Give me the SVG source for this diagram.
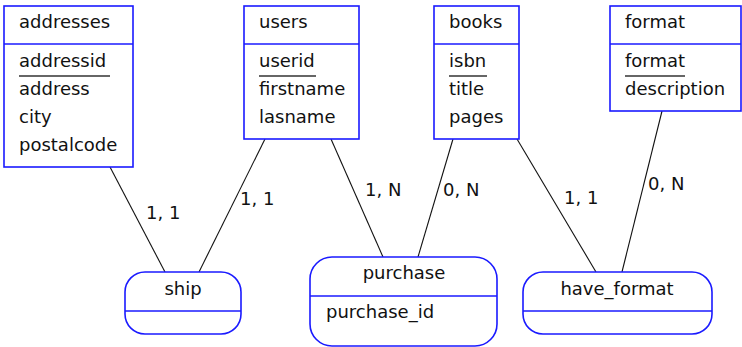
<svg xmlns="http://www.w3.org/2000/svg" width="742" height="347" viewBox="0 0 742 347">
<style>
.box{fill:#fff;stroke:#1a1aff;stroke-width:1.6}
.div{stroke:#1a1aff;stroke-width:1.6}
.t{font-family:"DejaVu Sans",sans-serif;font-size:18px;fill:#111}
.c{text-anchor:middle}
.u{stroke:#333;stroke-width:1.4}
.lk{stroke:#111;stroke-width:1.1;fill:none}
</style>
<rect width="742" height="347" fill="#fff"/>
<g id="connectors">
<line class="lk" x1="110" y1="167" x2="165" y2="272"/>
<line class="lk" x1="265" y1="139" x2="199" y2="272"/>
<line class="lk" x1="331" y1="139" x2="383" y2="257"/>
<line class="lk" x1="453" y1="139" x2="418" y2="257"/>
<line class="lk" x1="517" y1="139" x2="596" y2="272"/>
<line class="lk" x1="662" y1="111" x2="622" y2="272"/>
<text class="t" x="146" y="219">1, 1</text>
<text class="t" x="240" y="205">1, 1</text>
<text class="t" x="365" y="196">1, N</text>
<text class="t" x="443" y="196">0, N</text>
<text class="t" x="564" y="204">1, 1</text>
<text class="t" x="648" y="190">0, N</text>
</g>
<g id="addresses">
<rect class="box" x="4" y="6" width="129" height="161"/>
<line class="div" x1="4" y1="44" x2="133" y2="44"/>
<text class="t" x="19" y="28">addresses</text>
<text class="t" x="19" y="67">addressid</text>
<line class="u" x1="19" y1="76" x2="110" y2="76"/>
<text class="t" x="19" y="95">address</text>
<text class="t" x="19" y="123">city</text>
<text class="t" x="19" y="151">postalcode</text>
</g>
<g id="users">
<rect class="box" x="244" y="6" width="115" height="133"/>
<line class="div" x1="244" y1="44" x2="359" y2="44"/>
<text class="t" x="259" y="28">users</text>
<text class="t" x="259" y="67">userid</text>
<line class="u" x1="259" y1="76" x2="316" y2="76"/>
<text class="t" x="259" y="95">firstname</text>
<text class="t" x="259" y="123">lasname</text>
</g>
<g id="books">
<rect class="box" x="434" y="6" width="85" height="133"/>
<line class="div" x1="434" y1="44" x2="519" y2="44"/>
<text class="t" x="449" y="28">books</text>
<text class="t" x="449" y="67">isbn</text>
<line class="u" x1="449" y1="76" x2="487" y2="76"/>
<text class="t" x="449" y="95">title</text>
<text class="t" x="449" y="123">pages</text>
</g>
<g id="format">
<rect class="box" x="610" y="6" width="131" height="105"/>
<line class="div" x1="610" y1="44" x2="741" y2="44"/>
<text class="t" x="625" y="28">format</text>
<text class="t" x="625" y="67">format</text>
<line class="u" x1="625" y1="76" x2="685" y2="76"/>
<text class="t" x="625" y="95">description</text>
</g>
<g id="ship">
<rect class="box" x="125" y="272" width="116" height="62" rx="20" ry="20"/>
<line class="div" x1="125" y1="311" x2="241" y2="311"/>
<text class="t c" x="183" y="295">ship</text>
</g>
<g id="purchase">
<rect class="box" x="310" y="257" width="187" height="89" rx="22" ry="22"/>
<line class="div" x1="310" y1="296" x2="497" y2="296"/>
<text class="t c" x="404" y="279">purchase</text>
<text class="t" x="326" y="318">purchase_id</text>
</g>
<g id="have_format">
<rect class="box" x="523" y="272" width="189" height="62" rx="20" ry="20"/>
<line class="div" x1="523" y1="311" x2="712" y2="311"/>
<text class="t c" x="617" y="295">have_format</text>
</g>
</svg>
